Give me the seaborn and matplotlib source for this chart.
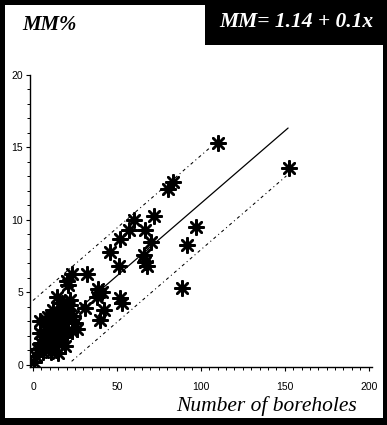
import numpy as np
import pandas as pd
import matplotlib
matplotlib.use("Agg")
import matplotlib.pyplot as plt
import seaborn as sns
from matplotlib.patches import Rectangle
from matplotlib.ticker import MultipleLocator

# ---- data ----
boreholes = [110, 83.5, 80.5, 152.5, 72, 60, 57, 67, 52, 70.5, 97, 92, 89, 46, 66, 67, 68, 51, 52, 53,
             32, 23, 21, 20, 39, 41, 38, 22, 14, 31, 42, 40, 26, 8, 4,
             0.5, 2, 3, 5, 6, 7, 9, 10, 11, 12, 13, 14, 15, 16, 17, 18, 19, 20, 21, 22, 17, 12, 9, 24, 15, 19, 23,
             4, 8, 11, 14, 7, 18, 25, 16]
mm_pct = [15.3, 12.6, 12.1, 13.6, 10.3, 10.0, 9.3, 9.3, 8.7, 8.5, 9.5, 8.3, 5.3, 7.8, 7.6, 7.1, 6.8, 6.8, 4.6, 4.3,
          6.3, 6.3, 5.5, 5.8, 5.2, 5.0, 4.7, 4.5, 4.7, 3.9, 3.8, 3.1, 2.5, 3.1, 3.0,
          0.2, 0.6, 1.1, 1.5, 0.9, 2.0, 1.4, 2.6, 0.9, 2.0, 3.2, 1.5, 2.6, 3.5, 1.9, 2.9, 3.9, 2.2, 3.1, 4.1, 4.3, 3.8, 3.3, 3.4, 0.8, 1.3, 2.3,
          2.2, 2.4, 1.7, 2.2, 1.2, 3.6, 2.9, 2.9]

intercept = 1.14
slope = 0.1
upper_offset = 3.3
lower_offset = -3.2
fit_x_range = [0, 152]
upper_x_range = [0, 106]
lower_x_range = [23, 151]

x_ticks = [0, 50, 100, 150, 200]
y_ticks = [0, 5, 10, 15, 20]
title_text = "MM%"
equation_text = "MM= 1.14 + 0.1x"
xlabel_text = "Number of boreholes"

# ---- figure ----
sns.set_theme(style="ticks")
plt.rcParams['font.family'] = ['Liberation Sans', 'DejaVu Sans']

W, H = 387, 425
fig = plt.figure(figsize=(W / 100, H / 100), dpi=100, facecolor="black")

def fx(px):
    return px / W

def fy(py):
    return 1 - py / H

fig.patches.append(Rectangle((fx(5), fy(418)), fx(383) - fx(5), fy(45) - fy(418),
                             transform=fig.transFigure, facecolor="white", edgecolor="none", zorder=-2))
fig.patches.append(Rectangle((fx(5), fy(46)), fx(205) - fx(5), fy(5) - fy(46),
                             transform=fig.transFigure, facecolor="white", edgecolor="none", zorder=-2))

ax = fig.add_axes([fx(30), fy(367), fx(372) - fx(30), fy(75) - fy(367)])
ax.set_facecolor("none")

df = pd.DataFrame({"boreholes": boreholes, "mm": mm_pct})

def band(xr, off):
    return pd.DataFrame({"x": xr, "y": [intercept + slope * v + off for v in xr]})

dash = (0, (3, 3, 1, 3))
sns.lineplot(data=band(fit_x_range, 0), x="x", y="y", ax=ax, color="black", lw=0.9, zorder=2)
sns.lineplot(data=band(upper_x_range, upper_offset), x="x", y="y", ax=ax, color="black", lw=0.75,
             linestyle=dash, zorder=2)
sns.lineplot(data=band(lower_x_range, lower_offset), x="x", y="y", ax=ax, color="black", lw=0.75,
             linestyle=dash, zorder=2)

sns.scatterplot(data=df, x="boreholes", y="mm", ax=ax, marker=(8, 2, 0), s=110,
                color="black", edgecolor="black", linewidth=1.8, zorder=3)
sns.scatterplot(data=df, x="boreholes", y="mm", ax=ax, marker="o", s=18,
                color="black", edgecolor="black", linewidth=0, zorder=3)

ax.set_xlim(-1.8, 202)
ax.set_ylim(-0.15, 20)
ax.set_xticks(x_ticks)
ax.set_yticks(y_ticks)
ax.xaxis.set_minor_locator(MultipleLocator(5))
ax.yaxis.set_minor_locator(MultipleLocator(1))
ax.tick_params(axis="both", which="major", length=3, width=0.8, colors="black", labelsize=7.5, pad=2)
ax.tick_params(axis="both", which="minor", length=2, width=0.7, colors="black")
ax.tick_params(axis="x", which="major", pad=8)
for s in ["top", "right"]:
    ax.spines[s].set_visible(False)
for s in ["left", "bottom"]:
    ax.spines[s].set_color("black")
    ax.spines[s].set_linewidth(1.0)
ax.set_xlabel("")
ax.set_ylabel("")

serif = ["Liberation Serif", "DejaVu Serif"]
fig.text(fx(357), fy(406), xlabel_text, ha="right", va="center", fontsize=15.5,
         style="italic", family=serif, color="black")
fig.text(fx(22), fy(25), title_text, ha="left", va="center", fontsize=15,
         style="italic", weight="bold", family=serif, color="black")
fig.text(fx(373), fy(22), equation_text, ha="right", va="center", fontsize=15.5,
         style="italic", weight="bold", family=serif, color="white")

fig.savefig("out.png", dpi=100, facecolor="black")
